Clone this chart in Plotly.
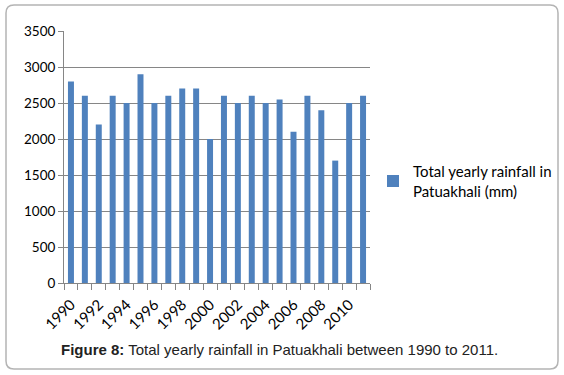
import plotly.graph_objects as go

years = list(range(1990, 2012))
rainfall = [2800, 2600, 2200, 2600, 2500, 2900, 2500, 2600, 2700, 2700, 2000,
            2600, 2500, 2600, 2500, 2550, 2100, 2600, 2400, 1700, 2500, 2600]
tick_years = list(range(1990, 2011, 2))
tick_labels = [str(y) for y in tick_years]
y_ticks = list(range(0, 3501, 500))

W, H = 564, 375
L, R, T, B = 64, 194, 31, 92
pw, ph = W - L - R, H - T - B


def px(x):
    return (x - L) / pw


def py(y):
    return (H - B - y) / ph


fig = go.Figure()
fig.add_trace(go.Bar(
    x=years, y=rainfall,
    name="Total yearly rainfall in<br>Patuakhali (mm)",
    marker=dict(color="#4f81bd", line=dict(width=0)),
    width=0.43,
    showlegend=True,
))

# rounded border
x0, y0, x1, y1, r = 6, 5, 558, 369, 8
path = (f"M {px(x0 + r)},{py(y0)} L {px(x1 - r)},{py(y0)} "
        f"Q {px(x1)},{py(y0)} {px(x1)},{py(y0 + r)} "
        f"L {px(x1)},{py(y1 - r)} Q {px(x1)},{py(y1)} {px(x1 - r)},{py(y1)} "
        f"L {px(x0 + r)},{py(y1)} Q {px(x0)},{py(y1)} {px(x0)},{py(y1 - r)} "
        f"L {px(x0)},{py(y0 + r)} Q {px(x0)},{py(y0)} {px(x0 + r)},{py(y0)} Z")
fig.add_shape(type="path", path=path, xref="paper", yref="paper",
              line=dict(color="#b4b4b4", width=1.5), fillcolor="rgba(0,0,0,0)",
              layer="below")

fig.add_annotation(
    text="<b>Figure 8:</b> Total yearly rainfall in Patuakhali between 1990 to 2011.",
    xref="paper", yref="paper", x=px(59), y=py(349),
    xanchor="left", yanchor="middle", showarrow=False,
    font=dict(family="Liberation Sans, Arial", size=15, color="#222222"),
)

fig.update_layout(
    width=W, height=H,
    margin=dict(l=L, r=R, t=T, b=B, pad=0, autoexpand=False),
    paper_bgcolor="white", plot_bgcolor="white",
    font=dict(family="Lato, Calibri, sans-serif", size=13, color="#000000"),
    bargap=0.57,
    legend=dict(x=px(373), y=py(181), xanchor="left", yanchor="middle",
                font=dict(family="Lato, Calibri, sans-serif", size=15, color="#000000"),
                itemwidth=30, bgcolor="rgba(0,0,0,0)"),
    xaxis=dict(
        range=[1989.5, 2011.5],
        tickmode="array", tickvals=tick_years, ticktext=tick_labels,
        tickangle=-45, ticks="", showgrid=False,
        showline=True, linecolor="#868686", linewidth=1,
        minor=dict(ticks="outside", tickmode="linear", tick0=1989.5, dtick=1,
                   ticklen=6, tickcolor="#868686", tickwidth=1, showgrid=False),
        tickfont=dict(size=15),
        ticklabelstandoff=6,
    ),
    yaxis=dict(
        range=[0, 3500], tickvals=y_ticks,
        ticks="outside", ticklen=5, tickcolor="#868686",
        showgrid=True, gridcolor="#868686", gridwidth=1,
        showline=True, linecolor="#868686", linewidth=1,
        zeroline=False, tickfont=dict(size=13.5),
    ),
)

fig.write_html("out.html", config={"displayModeBar": False},
               post_script="document.body.style.margin='0';document.body.style.overflow='hidden';")
